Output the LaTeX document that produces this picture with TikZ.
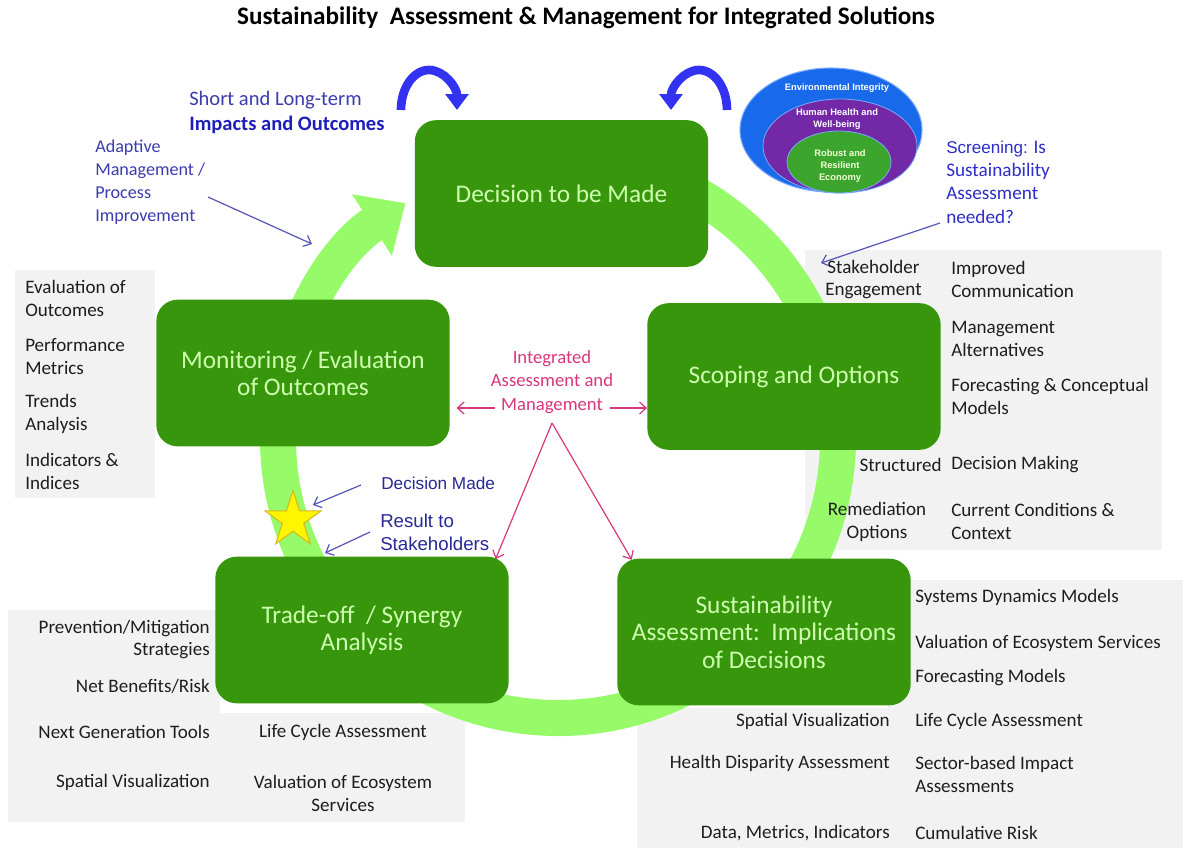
\documentclass[tikz,border=0pt]{standalone}
\usepackage{fontspec}
\setmainfont{Carlito}
\newfontfamily\arialfont{Liberation Sans}
\usetikzlibrary{arrows.meta,shapes.geometric}

\definecolor{boxgreen}{RGB}{55,150,12}
\definecolor{boxtext}{RGB}{205,255,175}
\definecolor{cyclegreen}{RGB}{150,250,105}
\definecolor{panelgray}{RGB}{242,242,242}
\definecolor{itemgray}{RGB}{30,30,30}
\definecolor{noteblue}{RGB}{60,60,175}
\definecolor{deepblue}{RGB}{30,30,185}
\definecolor{screenblue}{RGB}{45,45,200}
\definecolor{madeblue}{RGB}{40,40,150}
\definecolor{pointblue}{RGB}{85,85,185}
\definecolor{curlblue}{RGB}{50,50,240}
\definecolor{linkpink}{RGB}{215,55,125}
\definecolor{envblue}{RGB}{25,105,235}
\definecolor{envedge}{RGB}{120,170,255}
\definecolor{healthpurple}{RGB}{115,40,165}
\definecolor{econgreen}{RGB}{60,165,45}
\definecolor{econtext}{RGB}{240,255,215}
\definecolor{staryellow}{RGB}{255,245,0}
\definecolor{starrim}{RGB}{215,185,30}

\tikzset{
  stage/.style={rounded corners=16pt,fill=boxgreen,text=boxtext,align=center,
    minimum width=220pt,minimum height=110pt,inner sep=2pt,
    font=\fontsize{19}{20.5}\selectfont},
  panel/.style={fill=panelgray},
  item/.style={inner sep=0pt,text=itemgray,font=\fontsize{14.3}{17.2}\selectfont},
  note/.style={inner sep=0pt,text=noteblue,align=left,anchor=west},
  eco/.style={inner sep=0pt,text=white,align=center,
    font=\arialfont\bfseries\fontsize{7}{9}\selectfont},
  pointer/.style={draw=pointblue,line width=0.9pt,-{Straight Barb[length=5pt,width=9pt]}},
  link/.style={draw=linkpink,line width=0.9pt,-{Straight Barb[length=5pt,width=9pt]}},
  curl/.style={draw=curlblue,line width=6.5pt,-{Triangle[length=12pt,width=17pt]}},
  cyclearrow/.style={draw=cyclegreen,line width=27pt,-{Triangle[length=30pt,width=53pt]}}
}

\begin{document}
\begin{tikzpicture}[x=0.75pt,y=-0.75pt]
\fill[white] (0,0) rectangle (1183,850);
\useasboundingbox (0,0) rectangle (1183,850);

\node[font=\bfseries\fontsize{18.9}{22}\selectfont] (title) at (586,18)
  {Sustainability\ \ Assessment \& Management for Integrated Solutions};

% gray panels
\fill[panel] (15,270) rectangle (155,498);
\fill[panel] (805,250) rectangle (1162,550);
\fill[panel] (637,580) rectangle (1183,848);
\fill[panel] (8,610) rectangle (465,822);
\fill[white] (220,605) rectangle (467,713);
\fill[white] (630,575) rectangle (888,708);

% cycle
\draw[cyclearrow] (558,438) ++(-85:280) arc[start angle=-85,end angle=237,radius=280];

\node[stage] (decide) at (561.5,193.5) {Decision to be Made};
\node[stage] (scope) at (794,376.5) {Scoping and Options};
\node[stage] (assess) at (764,632) {Sustainability\\Assessment:\ \ Implications\\of Decisions};
\node[stage] (trade) at (362,630) {Trade-off\ \ / Synergy\\Analysis};
\node[stage] (monitor) at (303,373) {Monitoring / Evaluation\\of Outcomes};

\node[star,star points=5,star point ratio=2.6,minimum size=44pt,inner sep=0pt,
  fill=staryellow,draw=starrim,line width=0.8pt] (star) at (293,520) {};

% blue curls
\draw[curl] (401,110) arc[start angle=180,end angle=360,x radius=28,y radius=40];
\draw[curl] (727,110) arc[start angle=0,end angle=-180,x radius=28,y radius=40];

% nested ellipses
\filldraw[fill=envblue,draw=envedge,line width=0.8pt] (831,130) ellipse[x radius=91,y radius=62];
\filldraw[fill=healthpurple,draw=envedge,line width=0.6pt] (840,146) ellipse[x radius=77,y radius=47];
\filldraw[fill=econgreen,draw=envedge,line width=0.6pt] (839,162) ellipse[x radius=52,y radius=31];
\node[eco] (envint) at (837,88) {Environmental Integrity};
\node[eco] (health) at (837,119) {Human Health and\\Well-being};
\node[eco,text=econtext] (econ) at (840,166) {Robust and\\Resilient\\Economy};

% notes
\node[note,font=\fontsize{15.4}{18.75}\selectfont] (impacts) at (189,112.5)
  {Short and Long-term\\\textbf{\color{deepblue}Impacts and Outcomes}};
\node[note,font=\fontsize{13.6}{17.25}\selectfont] (adapt) at (95,182.5)
  {Adaptive\\Management /\\Process\\Improvement};
\node[note,text=screenblue,font=\fontsize{14.4}{17.5}\selectfont] (screen) at (946,182)
  {{\arialfont\fontsize{12.8}{17.5}\selectfont Screening:} Is\\Sustainability\\Assessment\\needed?};
\node[note,text=madeblue,font=\arialfont\fontsize{12.9}{15}\selectfont] (made) at (381,483) {Decision Made};
\node[note,text=madeblue,font=\arialfont\fontsize{14}{17.25}\selectfont] (result) at (380,532.5)
  {Result to\\Stakeholders};
\node[text=linkpink,align=center,inner sep=0pt,font=\fontsize{14}{17.6}\selectfont] (integ) at (552,382)
  {Integrated\\Assessment and\\Management};

\coordinate (adaptfrom) at (208,197);  \coordinate (adaptto) at (312,244);
\coordinate (screenfrom) at (940,223); \coordinate (screento) at (821,263);
\coordinate (madefrom) at (361,485);   \coordinate (madeto) at (313,505);
\coordinate (resultfrom) at (370,532); \coordinate (resultto) at (325,553);
\coordinate (mgl) at (495,408); \coordinate (mgr) at (610,408);
\coordinate (apex) at (552,423);

\draw[pointer] (adaptfrom) -- (adaptto);
\draw[pointer] (screenfrom) -- (screento);
\draw[pointer] (madefrom) -- (madeto);
\draw[pointer] (resultfrom) -- (resultto);
\draw[link,shorten >=5pt] (mgl) -- (monitor.east |- mgl);
\draw[link] (mgr) -- (scope.west |- mgr);
\draw[link] (apex) -- ([xshift=-10pt,yshift=-2pt]trade.north east);
\draw[link] (apex) -- ([xshift=11pt,yshift=-1pt]assess.north west);

% left panel
\node[item,align=left,anchor=west] (evalout) at (25,298.5) {Evaluation of\\Outcomes};
\node[item,align=left,anchor=west] (perf) at (25,356.5) {Performance\\Metrics};
\node[item,align=left,anchor=west] (trends) at (25,413.5) {Trends\\Analysis};
\node[item,align=left,anchor=west] (indic) at (25,471.5) {Indicators \&\\Indices};

% scoping panel
\node[item,align=center] (stake) at (873.5,279.5) {Stakeholder\\Engagement};
\node[item,align=left,anchor=west] (comm) at (951,279.5) {Improved\\Communication};
\node[item,align=left,anchor=west] (mgmt) at (951,338.5) {Management\\Alternatives};
\node[item,align=left,anchor=west] (fcast) at (951,396.5) {Forecasting \& Conceptual\\Models};
\node[item,anchor=east] (struct) at (942,465) {Structured};
\node[item,anchor=west] (dmaking) at (951,465) {Decision Making};
\node[item,align=center] (remed) at (877,521.5) {Remediation\\Options};
\node[item,align=left,anchor=west] (current) at (951,521.5) {Current Conditions \&\\Context};

% assessment panel
\node[item,anchor=west] (sysdyn) at (915,597) {Systems Dynamics Models};
\node[item,anchor=west] (valeco) at (915,643) {Valuation of Ecosystem Services};
\node[item,anchor=west] (fmodels) at (915,678) {Forecasting Models};
\node[item,anchor=east] (spatialr) at (890,721) {Spatial Visualization};
\node[item,anchor=west] (lcar) at (915,721) {Life Cycle Assessment};
\node[item,anchor=east] (disparity) at (890,763) {Health Disparity Assessment};
\node[item,align=left,anchor=west] (sector) at (915,774.5) {Sector-based Impact\\Assessments};
\node[item,anchor=east] (datam) at (890,833) {Data, Metrics, Indicators};
\node[item,anchor=west] (cumrisk) at (915,833) {Cumulative Risk};

% trade-off panel
\node[item,align=right,anchor=east] (prevent) at (210,639.5) {Prevention/Mitigation\\Strategies};
\node[item,anchor=east] (netben) at (210,686) {Net Benefits/Risk};
\node[item,anchor=east] (nextgen) at (210,732) {Next Generation Tools};
\node[item,anchor=east] (spatiall) at (210,782) {Spatial Visualization};
\node[item] (lcal) at (343,732) {Life Cycle Assessment};
\node[item,align=center] (vall) at (343,793.5) {Valuation of Ecosystem\\Services};
\end{tikzpicture}
\end{document}
